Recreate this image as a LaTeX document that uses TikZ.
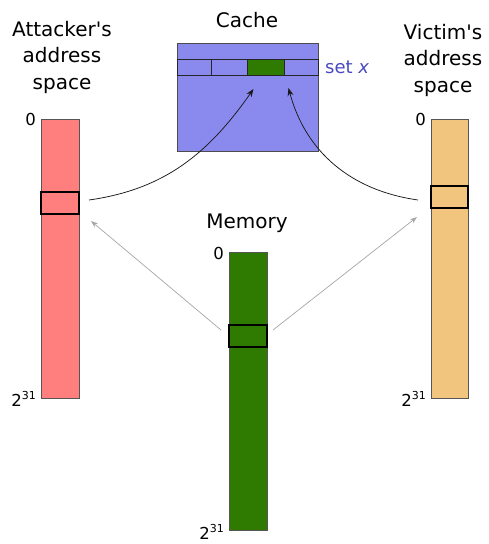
\documentclass[tikz,border=0pt]{standalone}
\usepackage{fontspec}
\newfontfamily\dv{DejaVu Sans}
\usetikzlibrary{arrows.meta}
\definecolor{atk}{HTML}{FF7F7F}
\definecolor{vic}{HTML}{F2C57F}
\definecolor{mem}{HTML}{2F7A00}
\definecolor{cachec}{HTML}{8A8AEE}
\definecolor{setc}{HTML}{4A4AC0}
\definecolor{edge}{HTML}{555555}
\newcommand{\sqq}{\raisebox{0.42em}{\fontsize{11}{11}\selectfont 31}}
\tikzset{
  bar/.style={draw=edge, line width=0.8pt, inner sep=0pt, outer sep=0pt, anchor=north west, minimum width=38pt},
  hl/.style={draw=black, line width=1.3pt, inner sep=0pt, outer sep=0pt, anchor=north west, minimum width=38pt, minimum height=22pt},
  cell/.style={draw=black!85, line width=1pt, inner sep=0pt, outer sep=0pt, anchor=north west, minimum height=16pt},
  title/.style={font=\dv\fontsize{20}{26.5}\selectfont, align=center, text=black},
  lab/.style={font=\dv\fontsize{16.5}{20}\selectfont, inner sep=0pt, text=black},
  blk/.style={-{Stealth[length=8pt,width=6pt]}, line width=0.75pt, black!90},
  gry/.style={-{Stealth[length=7pt,width=5pt]}, line width=0.7pt, black!35}
}
\begin{document}
\begin{tikzpicture}[x=1pt,y=-1pt,font=\dv]
\useasboundingbox (0,0) rectangle (489,544);
% cache
\node[draw=black!70, fill=cachec, line width=0.8pt, inner sep=0pt, outer sep=0pt, anchor=north west, minimum width=141pt, minimum height=108pt] (cache) at (177,43) {};
\node[cell, fill=cachec, minimum width=34pt] (c1) at (177,59) {};
\node[cell, fill=cachec, minimum width=36pt] (c2) at (211,59) {};
\node[cell, fill=mem, minimum width=37pt] (c3) at (247,59) {};
\node[cell, fill=cachec, minimum width=34pt] (c4) at (284,59) {};
\node[font=\dv\fontsize{18}{20}\selectfont, text=setc, anchor=base west, inner sep=0pt] (setx) at (325,73) {set \textit{x}};
\node[title, anchor=base] (tcache) at (247,27) {Cache};
% bars
\node[bar, fill=atk, minimum height=279pt] (abar) at (41,119) {};
\node[hl, fill=atk] (ahl) at (41,192) {};
\node[bar, fill=vic, minimum height=279pt, minimum width=37pt] (vbar) at (431,119) {};
\node[hl, fill=vic, minimum width=37pt] (vhl) at (431,186) {};
\node[bar, fill=mem, minimum height=278pt] (mbar) at (229,252) {};
\node[hl, fill=mem] (mhl) at (229,325) {};
% titles
\node[title] (tatk) at (62,57) {Attacker's\\address\\space};
\node[title] (tvic) at (443,60) {Victim's\\address\\space};
\node[title, anchor=base] (tmem) at (247,228) {Memory};
% labels
\node[lab, anchor=base east] (a0) at ([xshift=-5pt,yshift=-6pt]abar.north west) {0};
\node[lab, anchor=base east] (a31) at ([xshift=-5pt,yshift=-8pt]abar.south west) {2\sqq};
\node[lab, anchor=base east] (v0) at ([xshift=-5pt,yshift=-6pt]vbar.north west) {0};
\node[lab, anchor=base east] (v31) at ([xshift=-5pt,yshift=-8pt]vbar.south west) {2\sqq};
\node[lab, anchor=base east] (m0) at ([xshift=-5pt,yshift=-7pt]mbar.north west) {0};
\node[lab, anchor=base east] (m31) at ([xshift=-5pt,yshift=-9pt]mbar.south west) {2\sqq};
% arrows
\draw[blk] ([xshift=10pt,yshift=3pt]ahl.east) to[out=8, in=235] ([xshift=-12pt,yshift=-14pt]c3.south);
\draw[blk] ([xshift=-13pt,yshift=-3pt]vhl.west) to[out=172, in=-75] ([xshift=23pt,yshift=-13pt]c3.south);
\draw[gry] ([xshift=-8pt,yshift=6pt]mhl.west) -- ([xshift=12pt,yshift=-18pt]ahl.east);
\draw[gry] ([xshift=6pt,yshift=6pt]mhl.east) -- ([xshift=-14pt,yshift=-20pt]vhl.west);
\end{tikzpicture}
\end{document}
